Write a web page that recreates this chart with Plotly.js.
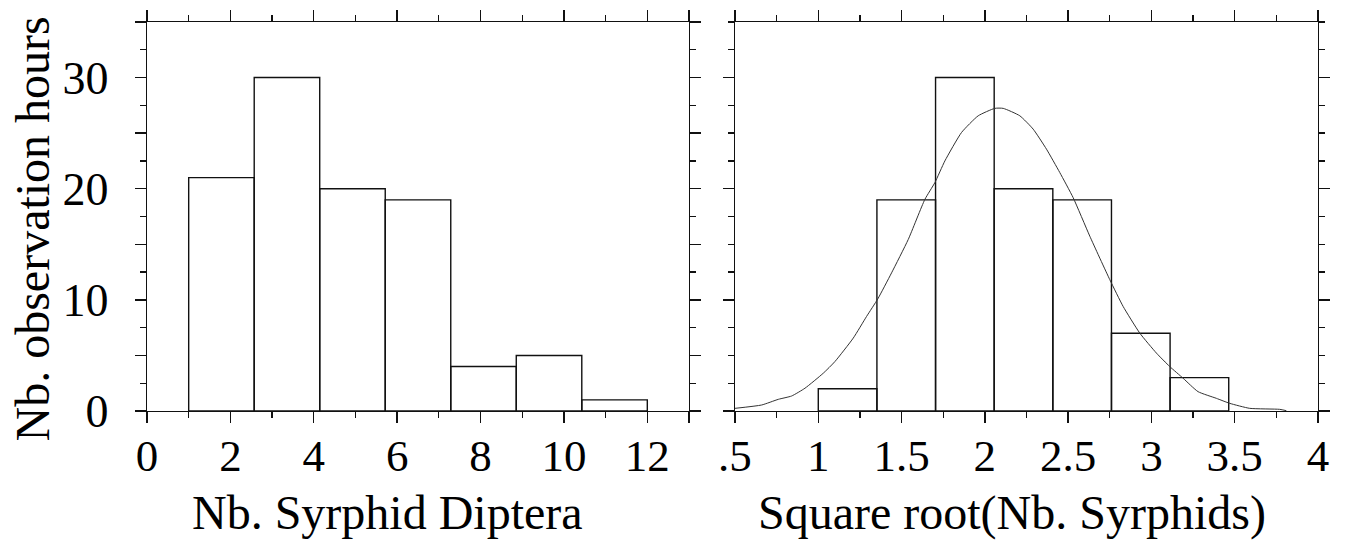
<!DOCTYPE html>
<html>
<head>
<meta charset="utf-8">
<script src="https://cdn.plot.ly/plotly-3.0.1.min.js"></script>
<style>html,body{margin:0;padding:0;background:#fff;}#chart{width:1346px;height:542px;}</style>
</head>
<body>
<div id="chart"></div>
<script>
// ---- Data ----
// Left: histogram of Nb. Syrphid Diptera, 7 bins from 1 to 12
const leftBinStart = 1;
const leftBinEnd = 12;
const leftCounts = [21, 30, 20, 19, 4, 5, 1];

// Right: histogram of sqrt(Nb. Syrphids), 7 bins from 1 to sqrt(12)
const rightBinStart = 1;
const rightBinEnd = 3.4641;
const rightCounts = [2, 19, 30, 20, 19, 7, 3];

// Right: fitted density curve
const curveX = [0.50, 0.66, 0.76, 0.84, 0.92, 1.03, 1.10, 1.21, 1.29, 1.357, 1.44, 1.54, 1.64, 1.70, 1.76, 1.86, 1.96, 2.06, 2.11, 2.21, 2.29, 2.37, 2.45, 2.53, 2.63, 2.75, 2.83, 2.93, 3.03, 3.11, 3.19, 3.28, 3.39, 3.47, 3.59, 3.77, 3.81];
const curveY = [0.24, 0.54, 1.05, 1.35, 2.05, 3.40, 4.45, 6.56, 8.51, 10.08, 12.43, 15.43, 19.04, 20.55, 22.5, 25.06, 26.56, 27.23, 27.23, 26.56, 25.36, 23.56, 21.45, 19.20, 15.73, 11.82, 9.41, 7.01, 5.21, 4.00, 2.95, 1.74, 1.14, 0.69, 0.24, 0.15, 0.03];

// Axis ticks / labels
const leftXTicks = [0, 2, 4, 6, 8, 10, 12, 13];
const leftXLabels = ['0', '2', '4', '6', '8', '10', '12', ''];
const rightXTicks = [0.5, 1, 1.5, 2, 2.5, 3, 3.5, 4];
const rightXLabels = ['.5', '1', '1.5', '2', '2.5', '3', '3.5', '4'];
const yTicks = [0, 5, 10, 15, 20, 25, 30, 35];
const yLabels = ['0', '', '10', '', '20', '', '30', ''];

const xTitleLeft = 'Nb. Syrphid Diptera';
const xTitleRight = 'Square root(Nb. Syrphids)';
const yTitle = 'Nb. observation hours';

// ---- Build bins ----
function bins(start, end, counts) {
  const n = counts.length, w = (end - start) / n;
  return { x: counts.map((_, i) => start + w * (i + 0.5)), w: w };
}
const lb = bins(leftBinStart, leftBinEnd, leftCounts);
const rb = bins(rightBinStart, rightBinEnd, rightCounts);

const FONT = '"Liberation Serif", "Times New Roman", serif';
const barStyle = { color: 'rgba(255,255,255,0)', line: { color: '#111', width: 1.4 } };

const traces = [
  { type: 'bar', x: lb.x, y: leftCounts, width: lb.w, marker: barStyle, xaxis: 'x', yaxis: 'y', hoverinfo: 'x+y' },
  { type: 'bar', x: rb.x, y: rightCounts, width: rb.w, marker: barStyle, xaxis: 'x2', yaxis: 'y2', hoverinfo: 'x+y' },
  { type: 'scatter', mode: 'lines', x: curveX, y: curveY, line: { color: '#333', width: 1, shape: 'spline', smoothing: 0.5 }, xaxis: 'x2', yaxis: 'y2' }
];

function xAxis(domain, range, tv, tt, dminor, anchor) {
  return {
    domain: domain, range: range, anchor: anchor,
    tickmode: 'array', tickvals: tv, ticktext: tt,
    ticks: 'outside', ticklen: 11, tickwidth: 1.4, tickcolor: '#111',
    minor: { dtick: dminor, tick0: 0, ticks: 'outside', ticklen: 6, tickwidth: 1.3, tickcolor: '#111', showgrid: false },
    showline: true, linecolor: '#111', linewidth: 1.4, mirror: 'allticks',
    showgrid: false, zeroline: false,
    tickfont: { family: FONT, size: 45, color: '#000' },
    ticklabelstandoff: -6,
    title: { text: '' },
    fixedrange: true
  };
}
function yAxis(anchor, showLabels) {
  return {
    domain: [0, 1], range: [0, 35], anchor: anchor,
    tickmode: 'array', tickvals: yTicks, ticktext: yLabels, showticklabels: showLabels,
    ticks: 'outside', ticklen: 11, tickwidth: 1.4, tickcolor: '#111',
    minor: { dtick: 2.5, tick0: 0, ticks: 'outside', ticklen: 6, tickwidth: 1.3, tickcolor: '#111', showgrid: false },
    showline: true, linecolor: '#111', linewidth: 1.4, mirror: 'allticks',
    showgrid: false, zeroline: false,
    tickfont: { family: FONT, size: 46, color: '#000' },
    ticklabelstandoff: 17,
    title: { text: '' },
    fixedrange: true
  };
}

const titleFont = { family: FONT, size: 48, color: '#000' };
const layout = {
  width: 1346, height: 542,
  margin: { l: 147, r: 28, t: 22, b: 131 },
  paper_bgcolor: '#fff', plot_bgcolor: '#fff',
  showlegend: false, barmode: 'overlay',
  xaxis: xAxis([0, 0.46285], [0, 13], leftXTicks, leftXLabels, 1, 'y'),
  yaxis: yAxis('x', true),
  xaxis2: xAxis([0.50213, 1], [0.5, 4], rightXTicks, rightXLabels, 0.25, 'y2'),
  yaxis2: yAxis('x2', false),
  font: { family: FONT, color: '#000' },
  annotations: [
    { text: xTitleLeft, xref: 'paper', yref: 'paper', x: 0.2058, y: -0.262, xanchor: 'center', yanchor: 'middle', showarrow: false, font: titleFont },
    { text: xTitleRight, xref: 'paper', yref: 'paper', x: 0.7387, y: -0.262, xanchor: 'center', yanchor: 'middle', showarrow: false, font: titleFont },
    { text: yTitle, xref: 'paper', yref: 'paper', x: -0.0974, y: 0.469, xanchor: 'center', yanchor: 'middle', textangle: -90, showarrow: false, font: titleFont }
  ]
};

Plotly.newPlot('chart', traces, layout, { staticPlot: true, displayModeBar: false });
</script>
</body>
</html>
